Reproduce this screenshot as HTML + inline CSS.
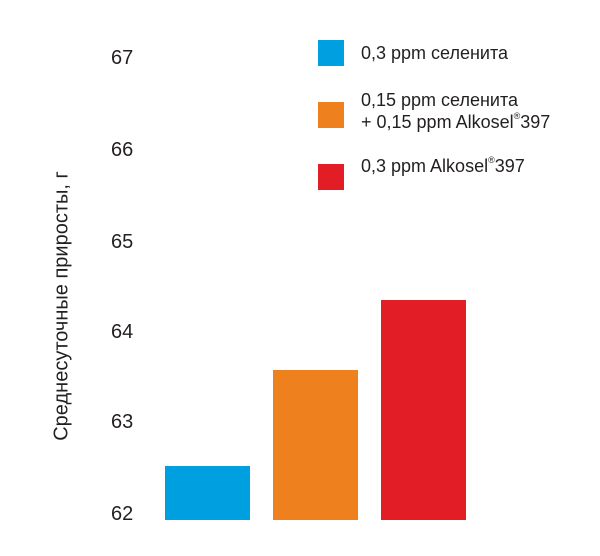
<!DOCTYPE html>
<html><head><meta charset="utf-8"><style>
body{margin:0;background:#fff;width:600px;height:556px;overflow:hidden;font-family:"Liberation Sans",sans-serif;color:#231f20}
.a{position:absolute}
.t{position:absolute;font-size:20px;left:111px;line-height:20px}
.l{position:absolute;font-size:18px;left:361px;line-height:22px}
sup{font-size:9px;vertical-align:9px;line-height:0}
</style></head><body>
<div class="t" style="top:48px">67</div>
<div class="t" style="top:140px">66</div>
<div class="t" style="top:232px">65</div>
<div class="t" style="top:322px">64</div>
<div class="t" style="top:412px">63</div>
<div class="t" style="top:504px">62</div>
<div class="a" style="left:62px;top:306px;transform:translate(-50%,-50%) rotate(-90deg);font-size:20px;white-space:nowrap">Среднесуточные приросты, г</div>
<div class="a" style="left:165px;top:466px;width:85px;height:54px;background:#00a0e0"></div>
<div class="a" style="left:273px;top:370px;width:85px;height:150px;background:#ee801e"></div>
<div class="a" style="left:381px;top:300px;width:85px;height:220px;background:#e31d25"></div>
<div class="a" style="left:318px;top:40px;width:26px;height:26px;background:#00a0e0"></div>
<div class="a" style="left:318px;top:102px;width:26px;height:26px;background:#ee801e"></div>
<div class="a" style="left:318px;top:164px;width:26px;height:26px;background:#e31d25"></div>
<div class="l" style="top:42px">0,3 ppm селенита</div>
<div class="l" style="top:89px">0,15 ppm селенита<br>+ 0,15 ppm Alkosel<sup>®</sup>397</div>
<div class="l" style="top:155px">0,3 ppm Alkosel<sup>®</sup>397</div>
</body></html>
